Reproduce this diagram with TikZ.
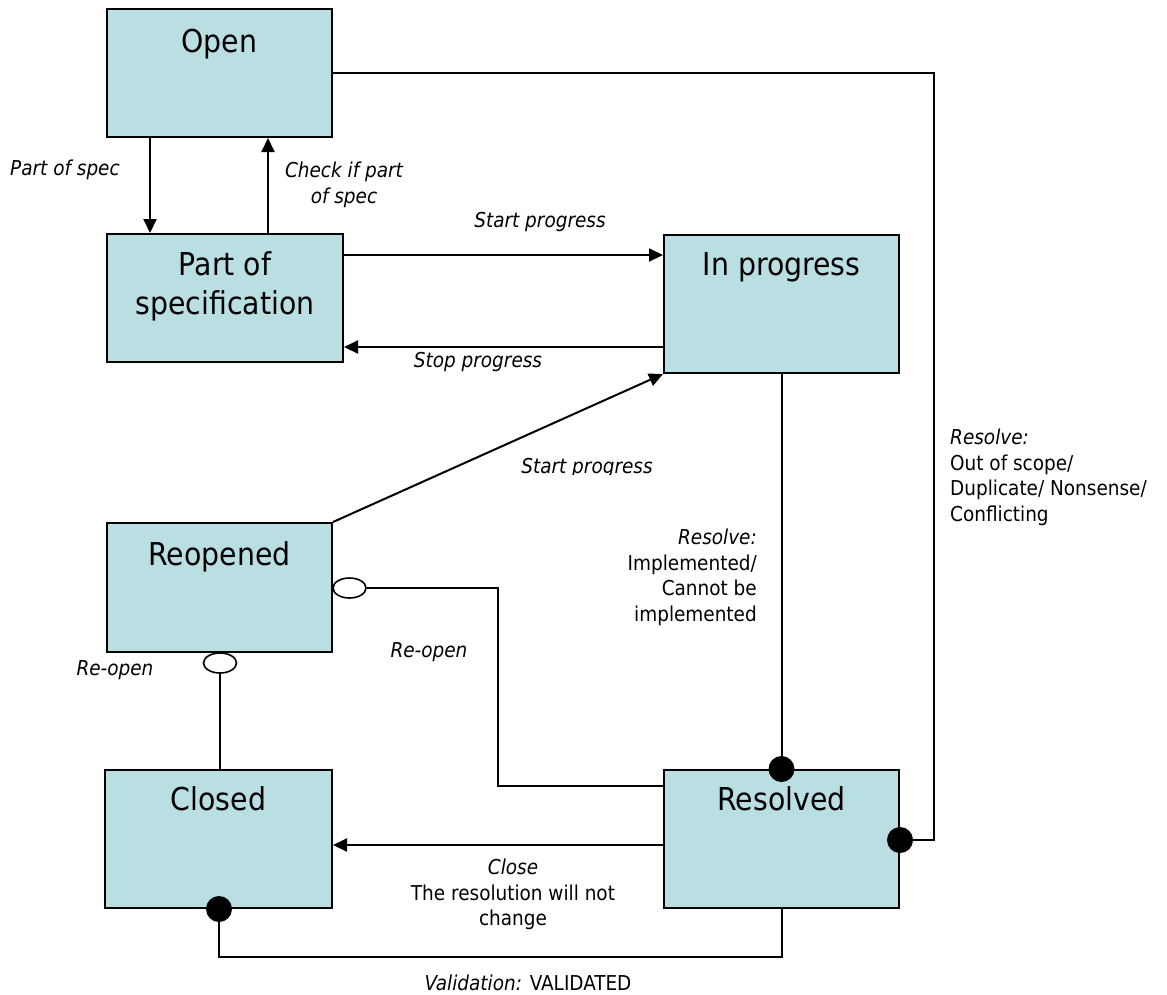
\documentclass[tikz,border=0pt]{standalone}
\usepackage{fontspec}
\setmainfont{DejaVu Sans Condensed}
\usetikzlibrary{arrows.meta,shapes.geometric}
\definecolor{boxfill}{RGB}{185,223,227}
\begin{document}
\begin{tikzpicture}[x=1pt,y=-1pt,
 state/.style={draw=black, line width=2pt, fill=boxfill, inner sep=0pt},
 title/.style={font=\fontsize{31.5}{39}\selectfont, anchor=base, inner sep=0pt},
 lab/.style={font=\fontsize{20.5}{25.5}\selectfont, inner sep=0pt},
 conn/.style={line width=2pt},
 arr/.style={conn, -{Triangle[length=14pt,width=13pt]}},
 bdot/.style={circle, fill=black, minimum size=26pt, inner sep=0pt},
 ring/.style={ellipse, draw=black, fill=white, line width=1.6pt, minimum width=33pt, minimum height=20pt, inner sep=0pt}]
\useasboundingbox (0,0) rectangle (1167,994);
% states
\node[state, minimum width=225pt, minimum height=128pt] (open) at (219.5,73) {};
\node[state, minimum width=236pt, minimum height=128pt] (pspec) at (225,298) {};
\node[state, minimum width=235pt, minimum height=138pt] (inprog) at (781.5,304) {};
\node[state, minimum width=225pt, minimum height=129pt] (reop) at (219.5,587.5) {};
\node[state, minimum width=227pt, minimum height=138pt] (closed) at (218.5,839) {};
\node[state, minimum width=235pt, minimum height=138pt] (resolved) at (781.5,839) {};
% titles
\node[title] (openT) at (219.5,52) {Open};
\node[title] (pspecT1) at (225,275) {Part of};
\node[title] (pspecT2) at (225,314) {specification};
\node[title] (inprogT) at (781.5,275) {In progress};
\node[title] (reopT) at (219.5,565) {Reopened};
\node[title] (closedT) at (218.5,810) {Closed};
\node[title] (resolvedT) at (781.5,810) {Resolved};
% connectors
\draw[arr] (open.south -| 150,0) -- (pspec.north -| 150,0);
\draw[arr] (pspec.north -| 268,0) -- (open.south -| 268,0);
\draw[arr] (pspec.east |- 0,255) -- (inprog.west |- 0,255);
\draw[arr] (inprog.west |- 0,347) -- (pspec.east |- 0,347);
\draw[arr] (reop.north east) -- (inprog.south west);
\draw[conn] (inprog.south) -- (resolved.north);
\draw[conn] (open.east |- 0,73) -| (934,840) -- (resolved.east |- 0,840);
\node[ring] (r1) at ([xshift=16.5pt]reop.east |- 0,588) {};
\node[ring] (r2) at ([yshift=-10pt]reop.south -| 220,0) {};
\draw[conn] (resolved.west |- 0,786) -| (498,588) -- (r1.east);
\draw[conn] (r2.south) -- (closed.north -| 220,0);
\draw[arr] (resolved.west |- 0,845) -- (closed.east |- 0,845);
\draw[conn] (resolved.south) |- (219,957) -- (closed.south -| 219,0);
% ends
\node[bdot] (d1) at (resolved.north) {};
\node[bdot] (d2) at (resolved.east |- 0,840) {};
\node[bdot] (d3) at (closed.south -| 219,0) {};
% labels
\node[lab, anchor=west] (l1) at (10,170) {\itshape Part of spec};
\node[lab, align=center, anchor=north] (l2) at (344,162) {\itshape Check if part\\\itshape of spec};
\node[lab] (l3) at (540,222) {\itshape Start progress};
\node[lab] (l4) at (478,362) {\itshape Stop progress};
\begin{scope}
\clip (450,440) rectangle (720,474);
\node[lab] (l5) at (587,468) {\itshape Start progress};
\end{scope}
\node[lab, align=right, anchor=north east] (l6) at (757,529) {\itshape Resolve:\\Implemented/\\Cannot be\\implemented};
\node[lab] (l7) at (429,652) {\itshape Re-open};
\node[lab] (l8) at (115,670) {\itshape Re-open};
\node[lab, align=left, anchor=north west] (l9) at (950,429) {\itshape Resolve:\\Out of scope/\\Duplicate/ Nonsense/\\Conflicting};
\node[lab, align=center, anchor=north] (l10) at (513,859) {\itshape Close\\The resolution will not\\change};
\node[lab] (l11) at (528,983) {\itshape Validation:\upshape{} VALIDATED};
\end{tikzpicture}
\end{document}
